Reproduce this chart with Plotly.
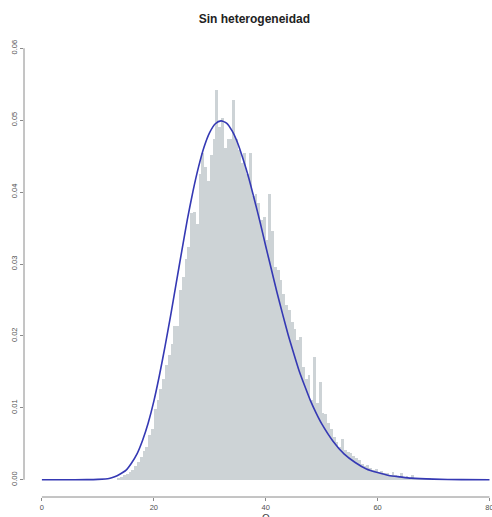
import plotly.graph_objects as go

# Histogram: bin left edges (width 0.5) and density heights
bin_width = 0.5
bin_left = [13.5 + 0.5 * i for i in range(113)]
bin_density = [
    0.0002, 0.0004, 0.0006, 0.0008, 0.0011, 0.0014, 0.0019, 0.0024, 0.0031, 0.0040,
    0.0046, 0.0062, 0.0070, 0.0099, 0.0111, 0.0126, 0.0140, 0.0160, 0.0174, 0.0189,
    0.0214, 0.0214, 0.0264, 0.0282, 0.0307, 0.0324, 0.0371, 0.0373, 0.0356, 0.0425,
    0.0454, 0.0435, 0.0415, 0.0451, 0.0474, 0.0542, 0.0490, 0.0503, 0.0462, 0.0474,
    0.0474, 0.0528, 0.0474, 0.0459, 0.0441, 0.0454, 0.0425, 0.0454, 0.0395, 0.0398,
    0.0385, 0.0361, 0.0366, 0.0334, 0.0398, 0.0346, 0.0296, 0.0292, 0.0278, 0.0258,
    0.0243, 0.0236, 0.0219, 0.0209, 0.0194, 0.0199, 0.0157, 0.0140, 0.0145, 0.0111,
    0.0170, 0.0107, 0.0136, 0.0093, 0.0091, 0.0079, 0.0071, 0.0060, 0.0052, 0.0046,
    0.0056, 0.0042, 0.0039, 0.0037, 0.0033, 0.0030, 0.0027, 0.0022, 0.0019, 0.0020,
    0.0016, 0.0014, 0.0015, 0.0011, 0.0012, 0.0009, 0.0010, 0.0007, 0.0011, 0.0006,
    0.0005, 0.0009, 0.0004, 0.0005, 0.0003, 0.0006, 0.0003, 0.0003, 0.0002, 0.0002,
    0.0001, 0.0002, 0.0001,
]

# Density curve points
curve_x = [0, 4, 8, 10, 12, 13, 14, 15, 16, 17, 18, 19, 20, 21, 22, 23, 24, 25, 26, 27,
           28, 29, 30, 31, 32, 33, 34, 35, 36, 37, 38, 39, 40, 41, 42, 43, 44, 45, 46, 47,
           48, 49, 50, 52, 54, 56, 58, 60, 62, 64, 66, 70, 75, 80]
curve_y = [0.0, 0.0, 0.00001, 0.00005, 0.00017, 0.0004, 0.0008, 0.0013, 0.0023, 0.0036,
           0.0055, 0.0079, 0.0109, 0.0145, 0.0185, 0.0228, 0.0273, 0.0318, 0.0362, 0.0401,
           0.0435, 0.0463, 0.0483, 0.0495, 0.0499, 0.0496, 0.0485, 0.0468, 0.0445, 0.0419,
           0.0389, 0.0358, 0.0325, 0.0293, 0.0261, 0.0231, 0.0202, 0.0176, 0.0151, 0.0130,
           0.0110, 0.0093, 0.0078, 0.0054, 0.0036, 0.0024, 0.0015, 0.0010, 0.0006, 0.0004,
           0.00022, 0.00008, 0.00002, 0.0]

x_ticks = [0, 20, 40, 60, 80]
y_ticks = [0.00, 0.01, 0.02, 0.03, 0.04, 0.05, 0.06]
y_tick_text = ["0.00", "0.01", "0.02", "0.03", "0.04", "0.05", "0.06"]
title_text = "Sin heterogeneidad"
x_label = "Q"

fig = go.Figure()
fig.add_trace(go.Bar(
    x=bin_left, y=bin_density, width=bin_width, offset=0,
    marker=dict(color="#cdd3d6", line=dict(width=0)),
    showlegend=False, hoverinfo="skip",
))
fig.add_trace(go.Scatter(
    x=curve_x, y=curve_y, mode="lines",
    line=dict(color="#3539b4", width=1.6, shape="spline", smoothing=0.6),
    showlegend=False, hoverinfo="skip",
))

axis_col = "#8a8a8a"
tick_font = dict(family="Liberation Sans, Arial", size=7.5, color="#505050")

fig.update_layout(
    width=492, height=517,
    margin=dict(l=24, r=0, t=31, b=20, autoexpand=False),
    paper_bgcolor="white", plot_bgcolor="white",
    bargap=0,
    title=dict(text="<b>" + title_text + "</b>", x=0.517, xanchor="center",
               y=1 - 19 / 517, yanchor="middle", automargin=False,
               font=dict(family="Liberation Sans, Arial", size=12, color="#222222")),
    xaxis=dict(range=[-3.2, 80.45], tickvals=x_ticks, ticktext=[str(v) for v in x_ticks],
               showgrid=False, zeroline=False, showline=False, automargin=False,
               ticks="outside", ticklen=3, tickcolor=axis_col, tickwidth=1,
               ticklabeloverflow="allow", tickfont=tick_font),
    yaxis=dict(range=[-0.0024, 0.0624], tickvals=y_ticks, ticktext=y_tick_text,
               showgrid=False, zeroline=False, showline=False, automargin=False,
               ticks="outside", ticklen=3, tickcolor=axis_col, tickwidth=1,
               ticklabeloverflow="allow", tickangle=-90, tickfont=tick_font),
    shapes=[
        dict(type="line", xref="x", yref="paper", x0=x_ticks[0], x1=x_ticks[-1], y0=0, y1=0,
             line=dict(color=axis_col, width=1)),
        dict(type="line", xref="paper", yref="y", x0=0, x1=0, y0=y_ticks[0], y1=y_ticks[-1],
             line=dict(color=axis_col, width=1)),
    ],
    annotations=[
        dict(text=x_label, x=40, xref="x", y=-0.047, yref="paper", yanchor="middle",
             showarrow=False, font=dict(family="Liberation Sans, Arial", size=10, color="#444444")),
    ],
)

fig.write_html(
    "out.html",
    config={"displayModeBar": False},
    post_script="document.body.style.margin='0';document.body.style.padding='0';",
)
